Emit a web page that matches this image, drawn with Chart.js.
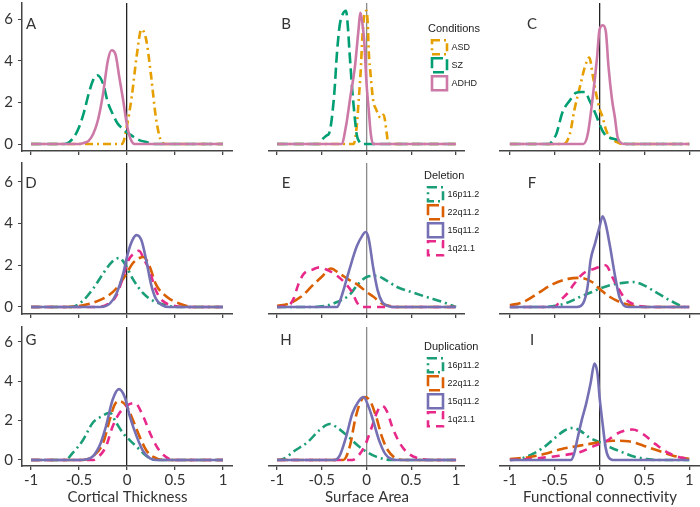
<!DOCTYPE html>
<html>
<head>
<meta charset="utf-8">
<script src="https://cdn.jsdelivr.net/npm/chart.js@4.4.1/dist/chart.umd.min.js"></script>
<style>
  body { margin: 0; background: #fff; }
  #wrap { position: relative; width: 700px; height: 507px; overflow: hidden; }
  #wrap canvas { position: absolute; }
</style>
</head>
<body>
<div id="wrap"></div>
<script>
/* ---------- data (density curves as [x, density] pairs) ---------- */

var xTicks = [-1, -0.5, 0, 0.5, 1];
var yTicks = [0, 2, 4, 6];
var axisTitles = ['Cortical Thickness', 'Surface Area', 'Functional connectivity'];
var panelLetters = ['A', 'B', 'C', 'D', 'E', 'F', 'G', 'H', 'I'];
var conditionNames = ['ASD', 'SZ', 'ADHD'];
var cnvNames = ['16p11.2', '22q11.2', '15q11.2', '1q21.1'];

// Conditions - cortical thickness
var asdCT = [[-1,0],[-0.05,0],[0,0.9],[0.05,2.3],[0.1,4.2],[0.15,5.5],[0.2,5.0],[0.25,3.3],[0.3,1.3],[0.35,0.2],[0.4,0],[1,0]];
var szCT = [[-1,0],[-0.65,0],[-0.6,0.1],[-0.55,0.35],[-0.5,0.8],[-0.45,1.5],[-0.4,2.4],[-0.35,3.1],[-0.31,3.3],[-0.25,2.9],[-0.2,2.0],[-0.15,1.45],[-0.1,1.0],[-0.05,0.75],[0,0.55],[0.05,0.4],[0.1,0.25],[0.15,0.15],[0.2,0.1],[0.27,0],[1,0]];
var adhdCT = [[-1,0],[-0.5,0],[-0.45,0.05],[-0.4,0.15],[-0.35,0.5],[-0.3,1.2],[-0.25,2.4],[-0.2,4.0],[-0.16,4.5],[-0.12,4.3],[-0.08,3.2],[-0.04,2.1],[0,0.9],[0.04,0.2],[0.08,0],[1,0]];

// Conditions - surface area
var asdSA = [[-1,0],[-0.145,0],[-0.11,0.85],[-0.088,2.1],[-0.067,3.4],[-0.044,5.3],[-0.02,6.3],[0,6.4],[0.013,5.8],[0.024,4.5],[0.047,3.25],[0.074,2.1],[0.108,1.65],[0.158,1.25],[0.19,1.4],[0.226,0.5],[0.24,0.05],[0.26,0],[1,0]];
var szSA = [[-1,0],[-0.53,0],[-0.5,0.2],[-0.45,0.4],[-0.42,0.5],[-0.4,0.85],[-0.36,2.45],[-0.33,4.4],[-0.3,5.7],[-0.27,6.2],[-0.23,6.4],[-0.21,5.7],[-0.19,4.4],[-0.16,2.6],[-0.13,1.2],[-0.11,0.45],[-0.08,0.1],[-0.06,0],[1,0]];
var adhdSA = [[-1,0],[-0.28,0],[-0.23,0.85],[-0.18,2.3],[-0.13,3.7],[-0.094,5.3],[-0.067,6.3],[-0.044,5.7],[-0.027,5.0],[0,2.9],[0.024,1.65],[0.047,0.5],[0.074,0],[1,0]];

// Conditions - functional connectivity
var asdFC = [[-1,0],[-0.4,0],[-0.33,0.5],[-0.28,1.65],[-0.21,2.9],[-0.164,3.7],[-0.114,4.15],[-0.074,3.25],[-0.04,2.45],[0.003,1.65],[0.037,1.25],[0.07,0.7],[0.12,0.3],[0.19,0.1],[0.25,0],[1,0]];
var szFC = [[-1,0],[-0.56,0],[-0.52,0.2],[-0.48,0.5],[-0.415,1.5],[-0.33,2.1],[-0.265,2.45],[-0.2,2.5],[-0.16,2.5],[-0.114,2.1],[-0.064,1.65],[-0.013,1.1],[0.037,0.6],[0.087,0.35],[0.154,0.25],[0.2,0.2],[0.25,0.08],[0.3,0],[1,0]];
var adhdFC = [[-1,0],[-0.18,0],[-0.13,0.5],[-0.08,2.1],[-0.03,4.05],[0,5.5],[0.037,5.7],[0.07,5.4],[0.1,3.7],[0.14,2.1],[0.17,1.3],[0.2,0.35],[0.24,0.05],[0.27,0],[1,0]];

// Deletion - cortical thickness
var delCT16p = [[-1,0],[-0.58,0],[-0.46,0.3],[-0.35,0.9],[-0.25,1.6],[-0.15,2.2],[-0.08,2.35],[-0.007,1.95],[0.06,1.35],[0.17,0.65],[0.27,0.3],[0.41,0.08],[0.51,0],[1,0]];
var delCT22q = [[-1,0],[-0.63,0],[-0.39,0.16],[-0.21,0.5],[-0.11,0.9],[-0.007,1.6],[0.06,2.1],[0.13,2.35],[0.17,2.4],[0.235,1.95],[0.3,1.1],[0.41,0.5],[0.55,0.16],[0.69,0],[1,0]];
var delCT15q = [[-1,0],[-0.28,0],[-0.18,0.16],[-0.11,0.65],[-0.04,1.6],[0.01,2.6],[0.055,3.2],[0.1,3.45],[0.15,3.2],[0.2,2.25],[0.25,1.1],[0.3,0.4],[0.37,0.08],[0.44,0],[1,0]];
var delCT1q = [[-1,0],[-0.3,0],[-0.18,0.2],[-0.11,0.56],[-0.04,1.45],[0.01,2.2],[0.08,2.6],[0.125,2.7],[0.18,2.25],[0.235,1.75],[0.3,0.8],[0.37,0.3],[0.47,0.08],[0.6,0],[1,0]];

// Deletion - surface area
var delSA16p = [[-1,0],[-0.6,0],[-0.43,0.08],[-0.33,0.24],[-0.195,0.56],[-0.094,1.1],[0.007,1.45],[0.11,1.5],[0.21,1.3],[0.34,0.96],[0.5,0.72],[0.67,0.48],[0.85,0.24],[0.98,0.03],[1,0]];
var delSA22q = [[-1,0.05],[-0.87,0.16],[-0.73,0.5],[-0.6,1.05],[-0.5,1.45],[-0.4,1.85],[-0.3,1.6],[-0.195,1.3],[-0.094,1.05],[0,0.72],[0.074,0.5],[0.174,0.16],[0.28,0.03],[0.34,0],[1,0]];
var delSA15q = [[-1,0],[-0.33,0],[-0.28,0.5],[-0.195,1.75],[-0.11,2.9],[-0.044,3.45],[-0.01,3.6],[0.023,3.3],[0.074,1.9],[0.124,0.8],[0.174,0.24],[0.24,0.05],[0.3,0],[1,0]];
var delSA1q = [[-1,0],[-0.87,0.08],[-0.815,0.4],[-0.765,1.05],[-0.7,1.6],[-0.6,1.8],[-0.53,1.9],[-0.45,1.8],[-0.33,1.5],[-0.23,1.1],[-0.16,0.7],[-0.11,0.24],[-0.06,0],[1,0]];

// Deletion - functional connectivity
var delFC16p = [[-1,0],[-0.62,0],[-0.39,0.16],[-0.22,0.48],[-0.084,0.72],[0,0.88],[0.117,1.05],[0.25,1.15],[0.37,1.2],[0.49,1.05],[0.65,0.65],[0.82,0.24],[0.96,0],[1,0]];
var delFC22q = [[-1,0.08],[-0.85,0.24],[-0.69,0.65],[-0.52,1.1],[-0.35,1.35],[-0.22,1.4],[-0.084,1.2],[0.017,0.8],[0.117,0.48],[0.25,0.2],[0.39,0.05],[0.52,0],[1,0]];
var delFC15q = [[-1,0],[-0.25,0],[-0.185,0.16],[-0.134,0.96],[-0.1,2.25],[-0.05,3.05],[0,3.86],[0.034,4.35],[0.067,4.0],[0.117,2.9],[0.168,1.6],[0.22,0.5],[0.27,0.08],[0.32,0],[1,0]];
var delFC1q = [[-1,0],[-0.5,0],[-0.44,0.3],[-0.35,0.7],[-0.285,1.1],[-0.185,1.6],[-0.05,1.85],[0.067,2.0],[0.15,1.37],[0.2,0.96],[0.285,0.4],[0.4,0.1],[0.55,0],[1,0]];

// Duplication - cortical thickness
var dupCT16p = [[-1,0],[-0.64,0],[-0.57,0.34],[-0.46,1.0],[-0.36,1.87],[-0.27,2.2],[-0.18,2.4],[-0.11,1.87],[-0.04,1.36],[0.03,1.0],[0.1,0.68],[0.17,0.34],[0.24,0.08],[0.3,0],[1,0]];
var dupCT22q = [[-1,0],[-0.46,0],[-0.36,0.17],[-0.25,0.85],[-0.18,2.05],[-0.13,2.8],[-0.084,3.0],[0,2.7],[0.06,2.05],[0.13,1.2],[0.2,0.5],[0.27,0.17],[0.38,0],[1,0]];
var dupCT15q = [[-1,0],[-0.53,0],[-0.39,0.08],[-0.29,0.68],[-0.22,1.7],[-0.15,3.06],[-0.084,3.6],[-0.024,3.2],[0.03,2.2],[0.1,1.2],[0.17,0.43],[0.24,0.08],[0.3,0],[1,0]];
var dupCT1q = [[-1,0],[-0.35,0],[-0.3,0.15],[-0.22,0.68],[-0.15,1.7],[-0.077,2.4],[0.01,2.8],[0.08,2.9],[0.17,2.2],[0.24,1.36],[0.31,0.68],[0.38,0.25],[0.48,0],[1,0]];

// Duplication - surface area
var dupSA16p = [[-1,0],[-0.93,0.05],[-0.8,0.48],[-0.66,0.9],[-0.53,1.5],[-0.41,1.83],[-0.33,1.65],[-0.195,1.15],[-0.094,0.72],[0.007,0.4],[0.107,0.17],[0.21,0.03],[0.275,0],[1,0]];
var dupSA22q = [[-1,0],[-0.26,0],[-0.23,0.14],[-0.18,0.82],[-0.13,2.0],[-0.077,2.85],[-0.02,3.2],[0.04,3.0],[0.107,2.2],[0.174,1.15],[0.24,0.48],[0.34,0.05],[0.41,0],[1,0]];
var dupSA15q = [[-1,0],[-0.36,0],[-0.3,0.22],[-0.23,1.15],[-0.16,2.35],[-0.094,2.95],[-0.034,3.2],[0.023,2.7],[0.074,2.0],[0.14,1.0],[0.21,0.3],[0.275,0.05],[0.34,0],[1,0]];
var dupSA1q = [[-1,0],[-0.16,0],[-0.077,0.3],[-0.01,0.82],[0.057,1.65],[0.124,2.5],[0.174,2.75],[0.225,2.5],[0.29,1.65],[0.376,0.82],[0.476,0.3],[0.61,0.05],[0.74,0],[1,0]];

// Duplication - functional connectivity
var dupFC16p = [[-1,0],[-0.89,0.05],[-0.75,0.3],[-0.62,0.65],[-0.49,1.15],[-0.39,1.5],[-0.3,1.63],[-0.22,1.5],[-0.117,1.15],[0,0.9],[0.117,0.65],[0.25,0.4],[0.39,0.17],[0.52,0.05],[0.62,0],[1,0]];
var dupFC22q = [[-1,0.05],[-0.79,0.14],[-0.62,0.3],[-0.42,0.56],[-0.22,0.73],[0,0.9],[0.15,0.98],[0.32,0.95],[0.49,0.73],[0.65,0.48],[0.82,0.22],[1,0.05]];
var dupFC15q = [[-1,0],[-0.32,0],[-0.285,0.3],[-0.25,1.0],[-0.2,2.0],[-0.15,2.85],[-0.1,3.9],[-0.057,4.9],[-0.023,4.4],[0,3.2],[0.034,1.85],[0.067,0.65],[0.1,0.14],[0.15,0],[1,0]];
var dupFC1q = [[-1,0],[-0.79,0.05],[-0.45,0.22],[-0.22,0.4],[-0.05,0.73],[0.084,0.98],[0.18,1.3],[0.285,1.5],[0.37,1.55],[0.49,1.3],[0.62,0.82],[0.75,0.4],[0.89,0.14],[1,0.05]];

/* ---------- styles ---------- */

var lineStyles = {
    'ASD':     { color: '#E69F00', dash: [8, 4, 2, 4], order: 2 },
    'SZ':      { color: '#009E73', dash: [11, 5], order: 1 },
    'ADHD':    { color: '#CC79A7', dash: [], order: 0 },
    '16p11.2': { color: '#1B9E77', dash: [9, 4, 2, 4], order: 3 },
    '22q11.2': { color: '#D95F02', dash: [11, 5], order: 2 },
    '15q11.2': { color: '#7570B3', dash: [], order: 0 },
    '1q21.1':  { color: '#E7298A', dash: [8, 6], order: 1 },
};

var panelCurves = [
    [asdCT, szCT, adhdCT], [asdSA, szSA, adhdSA], [asdFC, szFC, adhdFC],
    [delCT16p, delCT22q, delCT15q, delCT1q], [delSA16p, delSA22q, delSA15q, delSA1q], [delFC16p, delFC22q, delFC15q, delFC1q],
    [dupCT16p, dupCT22q, dupCT15q, dupCT1q], [dupSA16p, dupSA22q, dupSA15q, dupSA1q], [dupFC16p, dupFC22q, dupFC15q, dupFC1q],
];

// grid geometry (pixels) and axis ranges
var cols = [
    { left: 0,   width: 233, xMin: -1.094, xMax: 1.104, zero: '#222', letterDx: 9 },
    { left: 247, width: 218, xMin: -1.09,  xMax: 1.10,  zero: '#8a8a8a', letterDx: 17 },
    { left: 478, width: 222, xMin: -1.11,  xMax: 1.12,  zero: '#222', letterDx: 32 },
];
var rows = [
    { top: 0,   height: 161, padTop: 3, xH: 10, yMin: -0.336, yMax: 6.77, letterDy: 21 },
    { top: 161, height: 163, padTop: 2, xH: 10, yMin: -0.336, yMax: 6.91, letterDy: 20 },
    { top: 325, height: 182, padTop: 2, xH: 41, yMin: -0.305, yMax: 6.76, letterDy: 13 },
];

var tickFont = { family: 'Lato', size: 15 };

/* ---------- plugins ---------- */

var letterPlugin = {
    id: 'panelLetter',
    afterDraw: function(chart, args, opts){
        var ctx = chart.ctx, area = chart.chartArea;
        ctx.save();
        ctx.font = '15px Lato';
        ctx.fillStyle = '#333';
        ctx.textAlign = 'center';
        ctx.textBaseline = 'middle';
        ctx.fillText(opts.text, area.left + opts.dx, area.top + opts.dy);
        ctx.restore();
    }
};

function makeCanvas(left, top, width, height){
    var c = document.createElement('canvas');
    c.width = width;
    c.height = height;
    c.style.left = left + 'px';
    c.style.top = top + 'px';
    document.getElementById('wrap').appendChild(c);
    return c;
}

/* ---------- panels ---------- */

function drawPanel(r, c){
    var row = rows[r], col = cols[c];
    var names = r === 0 ? conditionNames : cnvNames;
    var curves = panelCurves[r * 3 + c];
    var isBottom = r === 2;

    var datasets = names.map(function(name, i){
        var st = lineStyles[name];
        return {
            label: name,
            data: curves[i],
            borderColor: st.color,
            borderDash: st.dash,
            borderWidth: 2.6,
            pointRadius: 0,
            cubicInterpolationMode: 'monotone',
            fill: false,
            order: st.order,
        };
    });

    var canvas = makeCanvas(col.left, row.top, col.width, row.height);

    new Chart(canvas, {
        type: 'line',
        data: { datasets: datasets },
        plugins: [letterPlugin],
        options: {
            responsive: false,
            animation: false,
            events: [],
            layout: { autoPadding: false, padding: { top: row.padTop, left: 0, right: 0, bottom: 0 } },
            plugins: {
                legend: { display: false },
                tooltip: { enabled: false },
                panelLetter: { text: panelLetters[r * 3 + c], dx: col.letterDx, dy: row.letterDy },
            },
            scales: {
                x: {
                    type: 'linear',
                    min: col.xMin,
                    max: col.xMax,
                    afterBuildTicks: function(scale){
                        scale.ticks = xTicks.map(function(v){ return { value: v }; });
                    },
                    afterFit: function(scale){
                        scale.height = row.xH;
                        scale.paddingLeft = 0;
                        scale.paddingRight = 0;
                    },
                    grid: {
                        drawOnChartArea: true,
                        color: function(ctx){
                            return ctx.tick && ctx.tick.value === 0 ? col.zero : 'rgba(0,0,0,0)';
                        },
                        lineWidth: 1.3,
                        tickColor: '#444',
                        tickLength: 4,
                    },
                    border: { display: true, color: '#444', width: 1.5 },
                    ticks: {
                        display: isBottom,
                        autoSkip: false,
                        maxRotation: 0,
                        padding: 1,
                        color: '#333',
                        font: tickFont,
                        callback: function(v){ return String(v); },
                    },
                    title: {
                        display: isBottom,
                        text: axisTitles[c],
                        color: '#333',
                        font: { family: 'Lato', size: 15 },
                        padding: { top: 0, bottom: 1 },
                    },
                },
                y: {
                    type: 'linear',
                    display: c === 0,
                    min: row.yMin,
                    max: row.yMax,
                    afterBuildTicks: function(scale){
                        scale.ticks = yTicks.map(function(v){ return { value: v }; });
                    },
                    afterFit: function(scale){
                        scale.width = 22;
                        scale.paddingTop = 0;
                        scale.paddingBottom = 0;
                    },
                    grid: { drawOnChartArea: false, tickColor: '#444', tickLength: 4 },
                    border: { display: true, color: '#444', width: 1.5 },
                    ticks: { padding: 5, color: '#333', font: tickFont },
                },
            },
        },
    });
}

/* ---------- legends ---------- */

function drawLegend(left, top, title, names){
    var canvas = makeCanvas(left, top, 140, 110);
    var datasets = names.map(function(name){
        var st = lineStyles[name];
        return {
            label: name,
            data: [],
            borderColor: st.color,
            backgroundColor: '#fff',
            borderDash: st.dash,
            borderWidth: 2.6,
        };
    });
    new Chart(canvas, {
        type: 'line',
        data: { datasets: datasets },
        options: {
            responsive: false,
            animation: false,
            events: [],
            layout: { padding: 0 },
            scales: { x: { display: false }, y: { display: false } },
            plugins: {
                tooltip: { enabled: false },
                legend: {
                    display: true,
                    position: 'left',
                    align: 'start',
                    title: {
                        display: true,
                        text: title,
                        position: 'start',
                        color: '#222',
                        font: { family: 'Liberation Sans', size: 11 },
                    },
                    labels: {
                        boxWidth: 15,
                        boxHeight: 14,
                        padding: 4,
                        color: '#222',
                        font: { family: 'Liberation Sans', size: 9 },
                    },
                },
            },
        },
    });
}

for (var r = 0; r < 3; r++){
    for (var c = 0; c < 3; c++){
        drawPanel(r, c);
    }
}

drawLegend(428, 23, 'Conditions', conditionNames);
drawLegend(424, 170, 'Deletion', cnvNames);
drawLegend(424, 341, 'Duplication', cnvNames);
</script>
</body>
</html>
